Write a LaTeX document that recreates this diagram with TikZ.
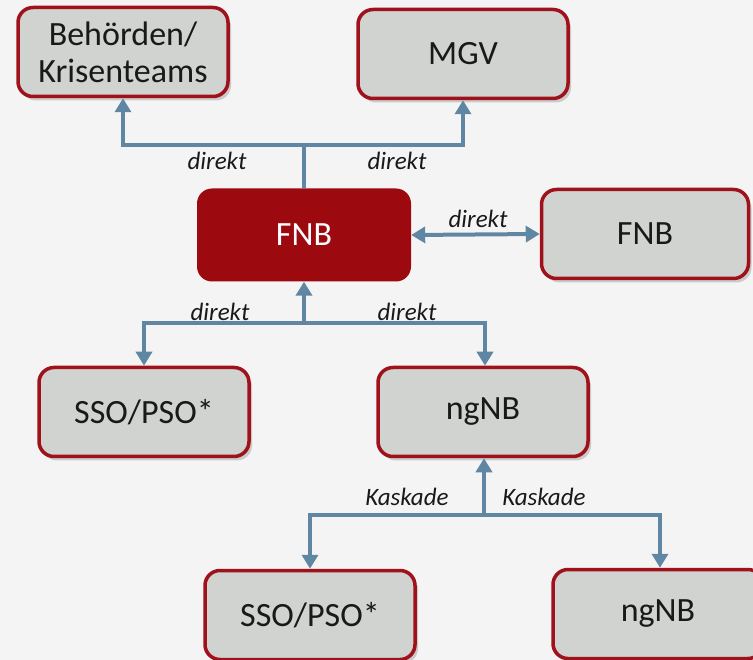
\documentclass[tikz,border=0pt]{standalone}
\usepackage{fontspec}
\setmainfont{Carlito}
\usetikzlibrary{arrows.meta,shadows}

\definecolor{bgcol}{HTML}{F4F4F4}
\definecolor{boxfill}{HTML}{D0D3CF}
\definecolor{boxred}{HTML}{A0121B}
\definecolor{fnbred}{HTML}{9C0A10}
\definecolor{linkblue}{HTML}{5F86A3}

\begin{document}
\begin{tikzpicture}[x=1pt, y=-1pt,
    box/.style={draw=boxred, line width=3.5pt, fill=boxfill, rounded corners=15pt,
        minimum width=210pt, minimum height=89pt, align=center, text=black!90,
        font=\fontsize{34}{37}\selectfont,
        drop shadow={shadow xshift=3pt, shadow yshift=-4pt, opacity=0.35}},
    mainbox/.style={fill=fnbred, rounded corners=15pt, minimum width=214pt,
        minimum height=93pt, text=white, font=\fontsize{34}{37}\selectfont},
    link/.style={draw=linkblue, line width=4pt},
    tip/.style={-{Triangle[width=16pt,length=14pt]}},
    lbl/.style={font=\fontsize{25}{28}\selectfont\itshape, text=black!90}]

    \useasboundingbox (0,0) rectangle (753,660);
    \clip (0,0) rectangle (753,660);
    \fill[bgcol] (0,0) rectangle (753,660);

    % boxes
    \node[box] (beh) at (123,52) {Behörden/\\Krisenteams};
    \node[box] (mgv) at (463,54) {MGV};
    \node[mainbox] (fnb) at (304,235) {FNB};
    \node[box, minimum width=207pt] (fnbr) at (645,234) {FNB};
    \node[box] (sso) at (144,412) {SSO/PSO*};
    \node[box] (ngnb) at (483,412) {ngNB};
    \node[box] (ssob) at (310,615) {SSO/PSO*};
    \node[box] (ngnbb) at (658,614) {ngNB};

    % junctions
    \coordinate (jtop) at (304,145);
    \coordinate (jmid) at (304,323);
    \coordinate (jlow) at (484,515);

    % connectors
    \draw[link] (fnb.north) -- (jtop);
    \draw[link, tip] (jtop) -| (beh.south);
    \draw[link, tip] (jtop) -| (mgv.south);
    \draw[link, {Triangle[width=16pt,length=14pt]}-{Triangle[width=16pt,length=14pt]}] (fnb.east) -- (fnbr.west);
    \draw[link, tip] (jmid) -- (fnb.south);
    \draw[link, tip] (jmid) -| (sso.north);
    \draw[link, tip] (jmid) -| ([xshift=2pt]ngnb.north);
    \draw[link, tip] (jlow) -- ([xshift=1pt]ngnb.south);
    \draw[link, tip] (jlow) -| (ssob.north);
    \draw[link, tip] (jlow) -| ([xshift=2pt]ngnbb.north);

    % labels
    \node[lbl] (l1) at (217,161) {direkt};
    \node[lbl] (l2) at (397,161) {direkt};
    \node[lbl] (l3) at (478,219) {direkt};
    \node[lbl] (l4) at (220,312) {direkt};
    \node[lbl] (l5) at (407,312) {direkt};
    \node[lbl] (l6) at (407,497) {Kaskade};
    \node[lbl] (l7) at (544,497) {Kaskade};
\end{tikzpicture}
\end{document}
